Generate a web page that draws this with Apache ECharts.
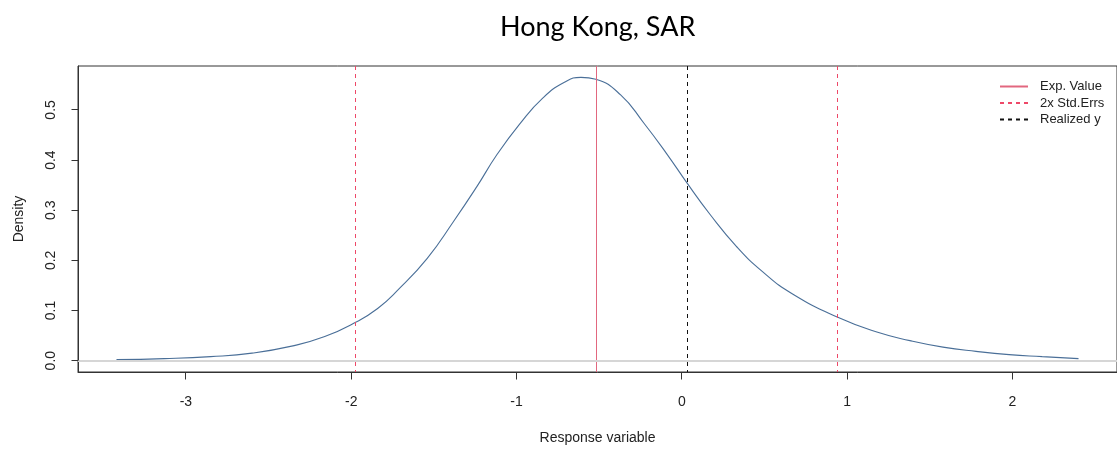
<!DOCTYPE html>
<html>
<head>
<meta charset="utf-8">
<script src="https://cdn.jsdelivr.net/npm/echarts@6/dist/echarts.min.js"></script>
<style>
  html, body { margin: 0; padding: 0; background: #fff; }
  #chart { width: 1117px; height: 451px; }
</style>
</head>
<body>
<div id="chart"></div>
<script>
// Predictive density of the response variable
const densityX = [-3.42, -3.13, -2.85, -2.6, -2.36, -2.16, -1.97, -1.84, -1.72, -1.54, -1.38, -1.24,
  -1.12, -0.98, -0.84, -0.71, -0.61, -0.52, -0.37, -0.23, -0.09, 0.03, 0.17, 0.33, 0.49, 0.67,
  0.94, 1.18, 1.38, 1.58, 1.78, 1.98, 2.18, 2.40];
const densityY = [0.002, 0.004, 0.008, 0.015, 0.029, 0.048, 0.077, 0.104, 0.140, 0.204, 0.278, 0.347,
  0.410, 0.472, 0.524, 0.555, 0.565, 0.561, 0.530, 0.474, 0.412, 0.355, 0.292, 0.228, 0.177, 0.133,
  0.087, 0.057, 0.040, 0.027, 0.0185, 0.012, 0.008, 0.004];

// Reference values
const expValue = -0.516;
const stdErrBand = [-1.971, 0.94];
const realizedY = 0.036;

// Axis ticks
const xTicks = [-3, -2, -1, 0, 1, 2];
const yTicks = [0, 0.1, 0.2, 0.3, 0.4, 0.5];

const curve = densityX.map((x, i) => [x, densityY[i]]);

// Plot limits padded 4% beyond the data range on each side
const xr = densityX[densityX.length - 1] - densityX[0];
const xMin = densityX[0] - 0.04 * xr;
const xMax = densityX[densityX.length - 1] + 0.04 * xr;
const yTop = Math.max(...densityY);
const yMin = -0.04 * yTop;
const yMax = yTop * 1.04;

const FONT = 'Liberation Sans, Arial, sans-serif';
const TICK_LEN = 7;
const chart = echarts.init(document.getElementById('chart'), null, { renderer: 'canvas' });

// Snap a coordinate to the centre of a pixel so 1px lines stay crisp
const snap = v => Math.round(v - 0.5) + 0.5;

// Legend entry for a vertical reference line (the line itself is drawn by refLines)
function legendEntry(name, color, type) {
  return {
    name: name,
    type: 'line',
    data: [],
    symbol: 'none',
    lineStyle: { color: color, width: 1, type: type },
    itemStyle: { color: color }
  };
}

// Full-height vertical lines at the given x values
function refLines(values, color, dash) {
  return {
    type: 'custom',
    silent: true,
    z: 4,
    data: values.map(v => [v]),
    renderItem: (params, api) => {
      const v = api.value(0);
      const top = api.coord([v, yMax]);
      const bottom = api.coord([v, yMin]);
      const x = snap(top[0]);
      return {
        type: 'line',
        shape: { x1: x, y1: top[1], x2: x, y2: bottom[1] },
        style: { stroke: color, lineWidth: 1, lineDash: dash }
      };
    }
  };
}

// Outward tick marks on the frame, placed through the axis scales
function tickSeries(points, horizontal) {
  return {
    type: 'custom',
    silent: true,
    clip: false,
    z: 5,
    data: points,
    renderItem: (params, api) => {
      const p = api.coord([api.value(0), api.value(1)]);
      const x = snap(p[0]);
      const y = snap(p[1]);
      const shape = horizontal
        ? { x1: x - TICK_LEN, y1: y, x2: x, y2: y }
        : { x1: x, y1: y, x2: x, y2: y + TICK_LEN };
      return { type: 'line', shape: shape, style: { stroke: '#333', lineWidth: 1 } };
    }
  };
}

const EXP_COLOR = '#e2677f';
const SE_COLOR = '#ee4868';
const REAL_COLOR = '#111111';

chart.setOption({
  animation: false,
  backgroundColor: '#ffffff',
  title: {
    text: 'Hong Kong, SAR',
    left: 495,
    top: 9,
    textStyle: { fontFamily: 'Lato, sans-serif', fontSize: 27, fontWeight: 'normal', color: '#000' }
  },
  grid: {
    left: 78, top: 66, right: -4, bottom: 79,
    show: true, borderColor: '#333', borderWidth: 1, backgroundColor: 'transparent'
  },
  legend: {
    orient: 'vertical',
    left: 994,
    top: 75,
    itemWidth: 28,
    itemHeight: 14,
    itemGap: 3.5,
    itemStyle: { opacity: 0 },
    textStyle: { fontFamily: FONT, fontSize: 13, color: '#222', padding: [0, 0, 0, 7] },
    data: ['Exp. Value', '2x Std.Errs', 'Realized y']
  },
  xAxis: {
    type: 'value',
    min: xMin,
    max: xMax,
    name: 'Response variable',
    nameLocation: 'middle',
    nameGap: 59,
    nameTextStyle: { fontFamily: FONT, fontSize: 14, color: '#222' },
    splitLine: { show: false },
    axisLine: { show: true, onZero: false, lineStyle: { color: '#333', width: 1 } },
    axisTick: { show: false },
    axisLabel: { customValues: xTicks, margin: 23, fontFamily: FONT, fontSize: 14, color: '#222',
      formatter: v => String(v) }
  },
  yAxis: {
    type: 'value',
    min: yMin,
    max: yMax,
    name: 'Density',
    nameLocation: 'middle',
    nameGap: 52,
    nameRotate: 90,
    nameTextStyle: { fontFamily: FONT, fontSize: 14, color: '#222' },
    splitLine: { show: false },
    axisLine: { show: true, onZero: false, lineStyle: { color: '#333', width: 1 } },
    axisTick: { show: false },
    axisLabel: { customValues: yTicks, rotate: 90, margin: 20, fontFamily: FONT, fontSize: 14, color: '#222',
      formatter: v => v.toFixed(1) }
  },
  series: [
    {
      name: 'density',
      type: 'line',
      data: curve,
      smooth: 0.5,
      symbol: 'none',
      z: 3,
      lineStyle: { color: '#4a6f98', width: 1.1 },
      markLine: {
        silent: true,
        symbol: 'none',
        label: { show: false },
        lineStyle: { color: '#d6d6d6', width: 2, type: 'solid' },
        data: [{ yAxis: 0 }]
      }
    },
    legendEntry('Exp. Value', EXP_COLOR, 'solid'),
    legendEntry('2x Std.Errs', SE_COLOR, [4, 4]),
    legendEntry('Realized y', REAL_COLOR, [4, 4]),
    refLines([expValue], EXP_COLOR, null),
    refLines(stdErrBand, SE_COLOR, [4, 4]),
    refLines([realizedY], REAL_COLOR, [4, 4]),
    tickSeries(xTicks.map(v => [v, yMin]), false),
    tickSeries(yTicks.map(v => [xMin, v]), true)
  ]
});
</script>
</body>
</html>
